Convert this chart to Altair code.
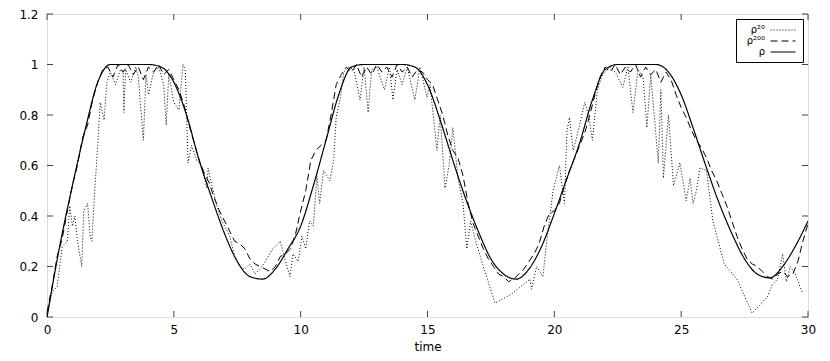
import altair as alt
import pandas as pd

# ---- data ----
SERIES = ["ρ²⁰", "ρ²⁰⁰", "ρ"]

# rho (smooth), sampled every 0.5 time units
T_RHO = [i * 0.5 for i in range(61)]
V_RHO = [0.0, 0.28, 0.52, 0.74, 0.93, 1.0, 1.0, 1.0, 1.0, 0.99,
         0.93, 0.80, 0.62, 0.47, 0.33, 0.22, 0.16, 0.15, 0.19, 0.27,
         0.36, 0.52, 0.70, 0.88, 0.99, 1.0, 1.0, 1.0, 1.0, 0.99,
         0.92, 0.78, 0.62, 0.47, 0.34, 0.23, 0.17, 0.15, 0.19, 0.28,
         0.41, 0.55, 0.69, 0.86, 0.98, 1.0, 1.0, 1.0, 1.0, 0.97,
         0.88, 0.74, 0.59, 0.45, 0.33, 0.23, 0.17, 0.155, 0.20, 0.28,
         0.38]

# rho^200 (noisy), sampled every 0.2 time units
T_R200 = [i * 0.2 for i in range(151)]
V_R200 = [0.02, 0.12, 0.24, 0.31, 0.42, 0.52, 0.60, 0.71, 0.76, 0.86,
          0.93, 0.98, 0.99, 0.95, 1.0, 0.97, 1.0, 0.96, 0.99, 0.94,
          0.99, 0.97, 1.0, 0.96, 0.98, 0.94, 0.90, 0.84, 0.76, 0.69,
          0.62, 0.57, 0.53, 0.47, 0.42, 0.38, 0.34, 0.30, 0.29, 0.27,
          0.23, 0.21, 0.20, 0.19, 0.18, 0.20, 0.24, 0.25, 0.27, 0.33,
          0.42, 0.50, 0.62, 0.66, 0.68, 0.70, 0.80, 0.92, 0.96, 0.99,
          0.97, 1.0, 0.95, 0.99, 0.96, 1.0, 0.97, 0.99, 0.95, 1.0,
          0.97, 0.99, 0.95, 0.98, 0.97, 0.94, 0.92, 0.86, 0.80, 0.72,
          0.66, 0.63, 0.56, 0.45, 0.37, 0.32, 0.27, 0.23, 0.20, 0.17,
          0.16, 0.14, 0.15, 0.17, 0.19, 0.22, 0.25, 0.29, 0.36, 0.41,
          0.42, 0.45, 0.52, 0.58, 0.63, 0.68, 0.73, 0.80, 0.88, 0.95,
          0.99, 0.97, 1.0, 0.96, 0.99, 0.97, 1.0, 0.95, 0.99, 0.96,
          0.98, 0.93, 0.97, 0.94, 0.88, 0.83, 0.79, 0.74, 0.70, 0.67,
          0.63, 0.58, 0.54, 0.49, 0.44, 0.38, 0.32, 0.27, 0.23, 0.21,
          0.20, 0.18, 0.16, 0.15, 0.17, 0.18, 0.16, 0.17, 0.22, 0.30,
          0.37]

# rho^20 (very noisy), irregular samples
T_R20 = [0, 0.2, 0.4, 0.6, 0.8, 0.9, 1.0, 1.1, 1.2, 1.37, 1.45, 1.6, 1.7, 1.77, 1.85,
         2.0, 2.1, 2.25, 2.36, 2.5, 2.7, 2.9, 3.0, 3.03, 3.1, 3.3, 3.5, 3.6, 3.8, 3.9,
         4.0, 4.2, 4.4, 4.6, 4.7, 4.8, 5.0, 5.2, 5.36, 5.45, 5.56, 5.7, 5.9, 6.1, 6.3,
         6.35, 6.5, 6.7, 6.9, 7.0, 7.2, 7.4, 7.6, 7.8, 8.0, 8.2, 8.4, 8.6, 8.9, 9.2,
         9.4, 9.58, 9.7, 9.9, 10.05, 10.2, 10.35, 10.5, 10.64, 10.75, 10.9, 11.15, 11.3,
         11.4, 11.55, 11.7, 11.9, 12.1, 12.34, 12.5, 12.66, 12.8, 13.0, 13.3, 13.5,
         13.64, 13.8, 14.0, 14.2, 14.5, 14.7, 14.98, 15.1, 15.37, 15.5, 15.69, 15.85,
         16.0, 16.2, 16.4, 16.55, 16.7, 16.9, 17.2, 17.66, 18.3, 19.04, 19.1, 19.3,
         19.55, 19.7, 19.95, 20.2, 20.4, 20.5, 20.6, 20.74, 20.9, 21.2, 21.35, 21.5,
         21.7, 21.9, 22.2, 22.4, 22.7, 22.9, 23.1, 23.3, 23.5, 23.65, 23.8, 24.1, 24.2,
         24.3, 24.5, 24.7, 24.95, 25.2, 25.35, 25.47, 25.6, 25.74, 26.0, 26.25, 26.7,
         27.2, 27.8, 28.4, 28.6, 28.8, 29.0, 29.15, 29.3, 29.5, 29.76]
V_R20 = [0.0, 0.10, 0.12, 0.28, 0.30, 0.44, 0.36, 0.40, 0.30, 0.20, 0.42, 0.45, 0.32, 0.30, 0.45,
         0.68, 0.85, 0.78, 0.93, 0.97, 0.92, 0.98, 0.97, 0.81, 0.98, 0.93, 0.99, 0.95, 0.70, 0.96,
         0.88, 0.97, 0.99, 0.92, 0.76, 0.96, 0.85, 0.82, 1.0, 0.98, 0.61, 0.68, 0.62, 0.60, 0.51,
         0.59, 0.52, 0.44, 0.38, 0.36, 0.32, 0.24, 0.20, 0.19, 0.21, 0.17, 0.19, 0.22, 0.27, 0.30,
         0.22, 0.16, 0.25, 0.22, 0.32, 0.27, 0.38, 0.36, 0.56, 0.45, 0.58, 0.54, 0.62,
         0.79, 0.86, 0.97, 0.99, 0.98, 0.86, 0.99, 0.81, 0.98, 0.99, 0.90, 0.99,
         0.86, 0.98, 0.92, 0.99, 0.86, 0.99, 0.87, 0.92, 0.66, 0.80, 0.51, 0.60,
         0.75, 0.55, 0.45, 0.27, 0.38, 0.30, 0.20, 0.055, 0.09, 0.15, 0.11, 0.20,
         0.16, 0.30, 0.50, 0.60, 0.45, 0.74, 0.79, 0.66, 0.72, 0.85, 0.80, 0.70,
         0.90, 0.96, 0.99, 0.97, 0.91, 0.99, 0.81, 0.98, 0.95, 0.75, 0.96, 0.61, 0.90,
         0.55, 0.80, 0.52, 0.61, 0.46, 0.55, 0.45, 0.50, 0.59, 0.58, 0.38, 0.21,
         0.15, 0.015, 0.08, 0.13, 0.15, 0.25, 0.14, 0.20, 0.17, 0.10]

X_TICKS = [0, 5, 10, 15, 20, 25, 30]
Y_TICKS = [0, 0.2, 0.4, 0.6, 0.8, 1.0, 1.2]

W, H = 761, 303
FONT = "DejaVu Sans"

df = pd.concat([
    pd.DataFrame({"t": T_R20, "v": V_R20, "s": SERIES[0], "o": range(len(T_R20))}),
    pd.DataFrame({"t": T_R200, "v": V_R200, "s": SERIES[1], "o": range(len(T_R200))}),
    pd.DataFrame({"t": T_RHO, "v": V_RHO, "s": SERIES[2], "o": range(len(T_RHO))}),
])

xs = alt.Scale(domain=[0, 30], nice=False)
ys = alt.Scale(domain=[0, 1.2], nice=False)
dash = alt.StrokeDash(
    "s:N",
    scale=alt.Scale(domain=SERIES, range=[[1, 2], [7, 4], [1, 0]]),
    legend=alt.Legend(title=None, orient="top-right", offset=5,
                      strokeColor="black", fillColor="white", padding=5,
                      symbolType="M-2.5,0H2.5", symbolSize=100, symbolStrokeWidth=1.2,
                      symbolStrokeColor="black", symbolFillColor="transparent",
                      symbolOffset=36,
                      labelFont=FONT, labelFontSize=10,
                      labelAlign="right", labelOffset={"expr": "-24"},
                      rowPadding=0, labelColor="black"),
)

xaxis = alt.Axis(values=X_TICKS, tickSize=0, domain=False, grid=False,
                 labelFont=FONT, labelFontSize=12, labelColor="black",
                 labelPadding=7, title="time", titleFont=FONT, titleFontSize=12,
                 titleFontWeight="normal", titleColor="black", titlePadding=6,
                 labelFlush=False)
yaxis = alt.Axis(values=Y_TICKS, tickSize=0, domain=False, grid=False, format="~g",
                 labelFont=FONT, labelFontSize=12, labelColor="black",
                 labelPadding=9, title=None)

noisy = alt.Chart(df).transform_filter(
    alt.FieldOneOfPredicate(field="s", oneOf=SERIES[:2])
).mark_line(color="black", strokeWidth=1, clip=True).encode(
    x=alt.X("t:Q", scale=xs, axis=xaxis),
    y=alt.Y("v:Q", scale=ys, axis=yaxis),
    strokeDash=dash,
    detail="s:N",
    order="o:Q",
)

smooth = alt.Chart(df).transform_filter(
    alt.FieldEqualPredicate(field="s", equal=SERIES[2])
).mark_line(color="black", strokeWidth=1.2, interpolate="monotone", clip=True).encode(
    x=alt.X("t:Q", scale=xs),
    y=alt.Y("v:Q", scale=ys),
    strokeDash=dash,
    order="o:Q",
)

tick_color = "#444444"
xt = pd.DataFrame({"tx": X_TICKS})
yt = pd.DataFrame({"ty": Y_TICKS})
xticks_b = alt.Chart(xt).mark_rule(color=tick_color).encode(
    x=alt.X("tx:Q", scale=xs), y=alt.value(H), y2=alt.value(H - 6))
xticks_t = alt.Chart(xt).mark_rule(color=tick_color).encode(
    x=alt.X("tx:Q", scale=xs), y=alt.value(0), y2=alt.value(6))
yticks_l = alt.Chart(yt).mark_rule(color=tick_color).encode(
    y=alt.Y("ty:Q", scale=ys), x=alt.value(0), x2=alt.value(6))
yticks_r = alt.Chart(yt).mark_rule(color=tick_color).encode(
    y=alt.Y("ty:Q", scale=ys), x=alt.value(W), x2=alt.value(W - 6))

chart = alt.layer(xticks_b, xticks_t, yticks_l, yticks_r, noisy, smooth).properties(
    width=W, height=H,
    autosize=alt.AutoSizeParams(type="none"),
    padding={"left": 39, "top": 6, "right": 14, "bottom": 36},
).configure_view(stroke="black", strokeWidth=1).configure(background="white")

chart.save("out.html", embed_options={"renderer": "svg", "actions": False})
